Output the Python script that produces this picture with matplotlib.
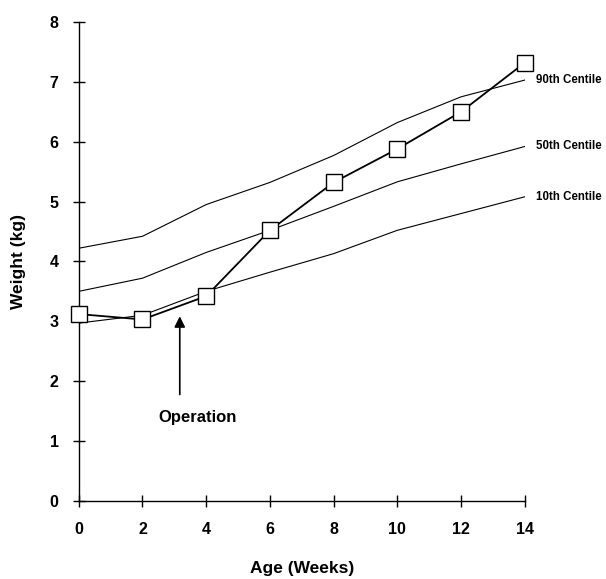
import matplotlib.pyplot as plt

plt.rcParams['font.family'] = ['Liberation Sans', 'DejaVu Sans']

weeks = [0, 2, 4, 6, 8, 10, 12, 14]
weight = [3.12, 3.03, 3.42, 4.52, 5.32, 5.88, 6.50, 7.32]
centile_90 = [4.22, 4.42, 4.95, 5.32, 5.77, 6.32, 6.75, 7.03]
centile_50 = [3.50, 3.72, 4.15, 4.52, 4.92, 5.33, 5.63, 5.92]
centile_10 = [2.97, 3.10, 3.50, 3.82, 4.13, 4.52, 4.80, 5.08]
centile_labels = ['90th Centile', '50th Centile', '10th Centile']

fig = plt.figure(figsize=(6.06, 5.79), dpi=100)
ax = fig.add_axes([0.130, 0.135, 0.736, 0.827])

for c in (centile_90, centile_50, centile_10):
    ax.plot(weeks, c, color='black', lw=0.8, zorder=2)

ax.plot(weeks, weight, color='black', lw=1.3, marker='s', ms=11.5,
        mfc='white', mec='black', mew=1.0, zorder=3, clip_on=False)

for lab, c in zip(centile_labels, (centile_90, centile_50, centile_10)):
    ax.annotate(lab, xy=(14, c[-1]), xytext=(8, 0), textcoords='offset points',
                fontsize=8.3, fontweight='bold', va='center', ha='left',
                annotation_clip=False)

ax.annotate('', xy=(3.17, 3.13), xytext=(3.17, 1.73),
            arrowprops=dict(arrowstyle='-|>', color='black', lw=1.2,
                            mutation_scale=16))
ax.text(3.72, 1.40, 'Operation', fontsize=12, fontweight='bold',
        ha='center', va='center')

ax.set_xlim(0, 14)
ax.set_ylim(0, 8)
ax.set_xticks(weeks)
ax.set_yticks(range(0, 9))
ax.spines['top'].set_visible(False)
ax.spines['right'].set_visible(False)
ax.spines['left'].set_linewidth(1.0)
ax.spines['bottom'].set_linewidth(1.0)
ax.tick_params(direction='inout', length=9, width=1.0, labelsize=11.5)
ax.tick_params(axis='x', pad=11)
ax.tick_params(axis='y', pad=10)
for t in ax.get_xticklabels() + ax.get_yticklabels():
    t.set_fontweight('bold')

ax.set_xlabel('Age (Weeks)', fontsize=12.5, fontweight='bold', labelpad=17)
ax.set_ylabel('Weight (kg)', fontsize=12.5, fontweight='bold', labelpad=17)

fig.savefig('out.png', dpi=100)
